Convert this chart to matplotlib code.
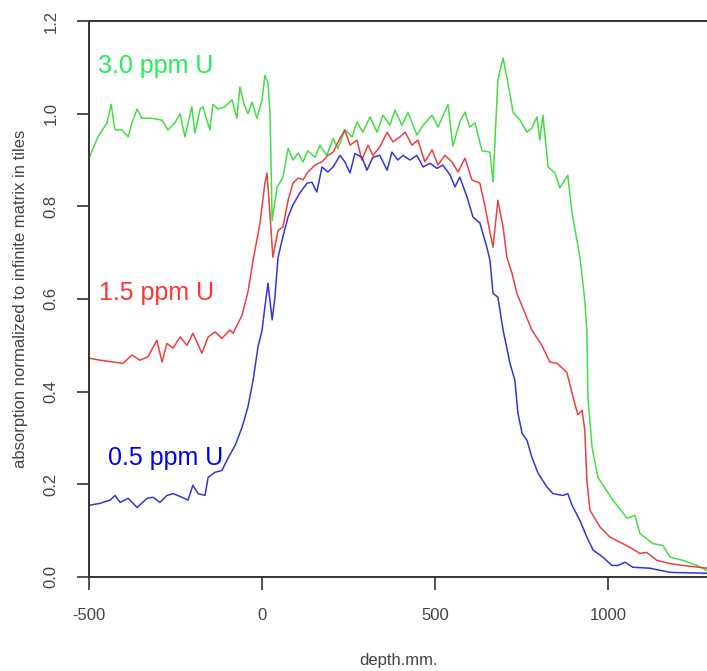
import numpy as np
import matplotlib.pyplot as plt

plt.rcParams['font.family'] = ['Liberation Sans', 'DejaVu Sans']

# 3.0 ppm U
depth_30 = [-500, -474, -448, -436, -425, -405, -387, -376, -361, -347, -318, -289, -272, -252, -237,
            -223, -203, -194, -179, -171, -151, -142, -127, -107, -87, -73, -64, -52, -41, -29, -15,
            0, 8, 17, 23, 29, 43, 60, 75, 89, 104, 118, 132, 153, 167, 187, 205, 219, 239, 260, 274,
            291, 312, 332, 349, 369, 384, 404, 421, 447, 465, 491, 508, 537, 551, 571, 586, 600, 615,
            635, 658, 667, 681, 696, 710, 725, 745, 765, 779, 794, 802, 811, 826, 846, 860, 875, 883,
            895, 918, 932, 938, 941, 953, 970, 1013, 1054, 1077, 1091, 1129, 1158, 1178, 1215, 1256, 1285]
abs_30 = [0.904, 0.95, 0.98, 1.02, 0.965, 0.965, 0.95, 0.98, 1.01, 0.99, 0.99, 0.986, 0.965, 0.98, 1.0,
          0.95, 1.015, 0.958, 1.01, 1.015, 0.965, 1.02, 1.01, 1.015, 1.03, 0.99, 1.058, 1.02, 1.0, 1.025, 0.99,
          1.03, 1.083, 1.066, 0.997, 0.77, 0.84, 0.863, 0.925, 0.9, 0.915, 0.896, 0.92, 0.906, 0.932, 0.91,
          0.947, 0.925, 0.965, 0.95, 0.982, 0.96, 0.993, 0.96, 0.997, 0.975, 1.008, 0.975, 1.003, 0.954,
          0.975, 0.997, 0.971, 1.02, 0.93, 0.982, 1.003, 0.971, 0.98, 0.92, 0.917, 0.853, 1.073, 1.12,
          1.066, 1.003, 0.986, 0.96, 0.969, 0.993, 0.943, 0.997, 0.885, 0.872, 0.84, 0.857, 0.867, 0.786,
          0.69, 0.597, 0.533, 0.389, 0.28, 0.215, 0.166, 0.127, 0.133, 0.094, 0.072, 0.068, 0.043, 0.036,
          0.025, 0.014]

# 1.5 ppm U
depth_15 = [-497, -468, -431, -402, -376, -353, -330, -304, -289, -275, -257, -237, -217, -200, -174,
            -156, -136, -116, -93, -84, -58, -41, -26, -6, 8, 14, 20, 31, 46, 60, 75, 89, 104, 118, 132,
            153, 173, 190, 205, 225, 239, 254, 274, 288, 306, 320, 340, 361, 378, 398, 413, 433, 450, 470,
            491, 508, 528, 548, 566, 586, 606, 629, 644, 658, 667, 681, 696, 707, 722, 736, 779, 808, 831,
            852, 880, 898, 912, 924, 932, 938, 947, 976, 1005, 1034, 1062, 1091, 1111, 1140, 1178, 1215, 1285]
abs_15 = [0.472, 0.468, 0.464, 0.461, 0.479, 0.468, 0.475, 0.511, 0.464, 0.504, 0.494, 0.518, 0.5, 0.526,
          0.483, 0.518, 0.529, 0.515, 0.533, 0.526, 0.565, 0.615, 0.684, 0.764, 0.85, 0.872, 0.813, 0.69,
          0.748, 0.755, 0.813, 0.85, 0.861, 0.857, 0.874, 0.889, 0.896, 0.91, 0.917, 0.947, 0.965, 0.932,
          0.943, 0.9, 0.932, 0.91, 0.928, 0.96, 0.939, 0.95, 0.96, 0.932, 0.943, 0.896, 0.922, 0.889, 0.91,
          0.896, 0.874, 0.904, 0.857, 0.85, 0.799, 0.745, 0.712, 0.813, 0.755, 0.69, 0.655, 0.612, 0.533,
          0.5, 0.464, 0.461, 0.442, 0.389, 0.35, 0.36, 0.317, 0.209, 0.144, 0.108, 0.086, 0.075, 0.064,
          0.051, 0.053, 0.036, 0.029, 0.025, 0.019]

# 0.5 ppm U
depth_05 = [-497, -468, -439, -425, -410, -387, -361, -332, -315, -295, -275, -257, -231, -214, -200,
            -185, -165, -156, -136, -116, -99, -78, -58, -41, -26, -12, 0, 8, 17, 29, 37, 46, 60, 75, 89,
            109, 130, 144, 158, 173, 190, 205, 225, 239, 254, 268, 288, 303, 320, 340, 361, 375, 392, 407,
            427, 447, 465, 485, 505, 522, 543, 557, 571, 592, 609, 629, 649, 658, 667, 681, 696, 716, 730,
            739, 751, 765, 779, 797, 823, 840, 869, 883, 895, 918, 938, 956, 984, 1010, 1028, 1048, 1071,
            1120, 1178, 1285]
abs_05 = [0.155, 0.159, 0.166, 0.176, 0.161, 0.17, 0.15, 0.17, 0.172, 0.161, 0.176, 0.18, 0.172, 0.166,
          0.198, 0.18, 0.176, 0.215, 0.226, 0.23, 0.256, 0.284, 0.323, 0.367, 0.425, 0.496, 0.533, 0.583,
          0.634, 0.555, 0.604, 0.69, 0.734, 0.777, 0.803, 0.829, 0.85, 0.852, 0.831, 0.885, 0.874, 0.885,
          0.91, 0.896, 0.872, 0.914, 0.906, 0.878, 0.906, 0.91, 0.878, 0.917, 0.9, 0.91, 0.9, 0.91, 0.885,
          0.893, 0.882, 0.889, 0.868, 0.842, 0.863, 0.82, 0.777, 0.764, 0.712, 0.684, 0.612, 0.604, 0.533,
          0.461, 0.425, 0.353, 0.31, 0.295, 0.259, 0.224, 0.194, 0.18, 0.176, 0.18, 0.155, 0.122, 0.086,
          0.058, 0.043, 0.025, 0.025, 0.032, 0.021, 0.019, 0.01, 0.008]

labels = ['3.0 ppm U', '1.5 ppm U', '0.5 ppm U']
x_ticks = [-500, 0, 500, 1000]
y_ticks = [0.0, 0.2, 0.4, 0.6, 0.8, 1.0, 1.2]

fig = plt.figure(figsize=(7.07, 6.71), dpi=100)
ax = fig.add_axes([89 / 707, 94 / 671, 618 / 707, 556 / 671])

ax.plot(depth_30, abs_30, color='#44dd44', lw=1.1)
ax.plot(depth_15, abs_15, color='#ea4040', lw=1.1)
ax.plot(depth_05, abs_05, color='#3535d5', lw=1.1)

ax.set_xlim(-500, 1285)
ax.set_ylim(0, 1.2)

ax.set_xticks(x_ticks)
ax.set_xticklabels([str(t) for t in x_ticks])
ax.set_yticks(y_ticks)
ax.set_yticklabels(['%.1f' % t for t in y_ticks], rotation=90, va='center')
ax.tick_params(direction='out', length=9, width=1.2, color='#333333',
               labelsize=12, labelcolor='#444444', pad=13)

for side in ['left', 'bottom', 'top']:
    ax.spines[side].set_color('#333333')
    ax.spines[side].set_linewidth(1.4)
ax.spines['right'].set_visible(False)

ax.set_xlabel('depth.mm.', fontsize=12, color='#444444', labelpad=22)
ax.set_ylabel('absorption normalized to infinite matrix in tiles', fontsize=12,
              color='#444444', labelpad=11)

# labels for each curve
ax.text(-474, 1.103, labels[0], color='#22ee55', fontsize=18, va='center')
ax.text(-472, 0.613, labels[1], color='#ff3333', fontsize=18, va='center')
ax.text(-445, 0.256, labels[2], color='#0000ee', fontsize=18, va='center')

plt.savefig('out.png', dpi=100)
